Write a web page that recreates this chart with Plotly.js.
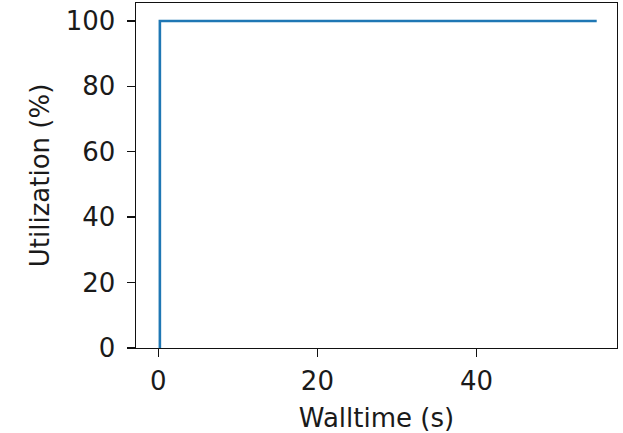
<!DOCTYPE html>
<html>
<head>
<meta charset="utf-8">
<script src="https://cdn.plot.ly/plotly-3.0.1.min.js"></script>
<style>
  html, body { margin: 0; padding: 0; background: #fff; }
  #chart { width: 623px; height: 433px; }
</style>
</head>
<body>
<div id="chart"></div>
<script>
// Walltime (s) against utilisation (%): a step from idle to full load
const walltime = [0.2, 0.2, 55.1];
const utilization = [0, 100, 100];
const xTicks = [0, 20, 40];
const yTicks = [0, 20, 40, 60, 80, 100];

const font = { family: 'DejaVu Sans, sans-serif', size: 26, color: '#1a1a1a' };

const axisStyle = {
  showline: true,
  mirror: true,
  linecolor: '#111',
  linewidth: 1.4,
  ticks: 'outside',
  ticklen: 8,
  tickwidth: 1.4,
  tickcolor: '#111',
  showgrid: false,
  zeroline: false,
  tickfont: font
};

Plotly.newPlot('chart', [{
  x: walltime,
  y: utilization,
  mode: 'lines',
  line: { color: '#1f77b4', width: 2.6 },
  hoverinfo: 'skip'
}], {
  width: 623,
  height: 433,
  margin: { l: 136, r: 6, t: 3, b: 85 },
  paper_bgcolor: '#fff',
  plot_bgcolor: '#fff',
  showlegend: false,
  font: font,
  xaxis: Object.assign({}, axisStyle, {
    range: [-2.8, 57.65],
    tickvals: xTicks,
    ticktext: xTicks.map(String),
    ticklabelstandoff: 1,
    title: { text: 'Walltime (s)', font: font, standoff: 14 }
  }),
  yaxis: Object.assign({}, axisStyle, {
    range: [0, 105.5],
    tickvals: yTicks,
    ticktext: yTicks.map(String),
    ticklabelstandoff: 6,
    title: { text: 'Utilization (%)', font: font, standoff: 8 }
  })
}, { staticPlot: true, displayModeBar: false });
</script>
</body>
</html>
